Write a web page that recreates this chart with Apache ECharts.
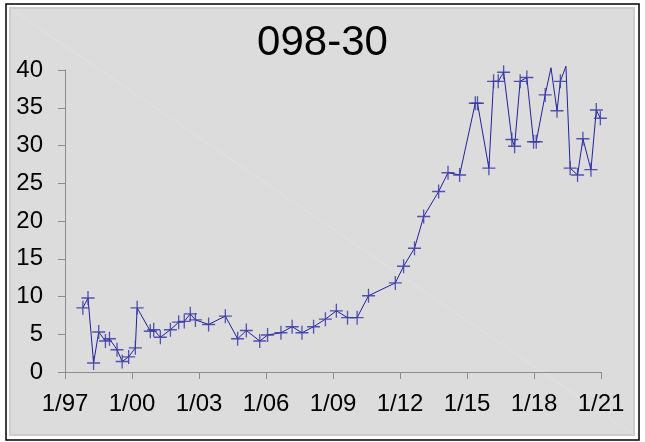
<!DOCTYPE html>
<html>
<head>
<meta charset="utf-8">
<script src="https://cdn.jsdelivr.net/npm/echarts@6/dist/echarts.min.js"></script>
<style>
  html, body { margin: 0; padding: 0; background: #fff; }
  #main { width: 645px; height: 442px; }
</style>
</head>
<body>
<div id="main"></div>
<script>
// dates as decimal years
var dates = [
  1997.80, 1998.03, 1998.28, 1998.51, 1998.81, 1998.99, 1999.33, 1999.56, 1999.85, 2000.15,
  2000.23, 2000.82, 2000.97, 2001.27, 2001.72, 2002.09, 2002.34, 2002.61, 2002.84, 2003.43,
  2004.18, 2004.73, 2005.12, 2005.72, 2006.07, 2006.67, 2007.17, 2007.61, 2008.13, 2008.66,
  2009.15, 2009.65, 2010.08, 2010.59, 2011.79, 2012.16, 2012.65, 2013.06, 2013.73, 2014.15,
  2014.67, 2015.37, 2015.47, 2015.98, 2016.19, 2016.40, 2016.64, 2017.01, 2017.13, 2017.38,
  2017.68, 2017.98, 2018.10, 2018.50, 2018.76, 2019.03, 2019.18, 2019.43, 2019.62, 2019.95,
  2020.19, 2020.55, 2020.79, 2020.97
];
var values = [
  8.5, 9.8, 1.2, 5.3, 4.1, 4.4, 2.95, 1.4, 2.0, 3.2,
  8.5, 5.4, 5.6, 4.6, 5.6, 6.6, 6.7, 7.7, 6.9, 6.3,
  7.4, 4.4, 5.5, 4.1, 4.9, 5.2, 6.0, 5.2, 6.0, 7.0,
  8.1, 7.2, 7.2, 10.1, 11.8, 14.0, 16.4, 20.6, 23.9, 26.4,
  26.1, 35.6, 35.6, 27.0, 38.5, 38.5, 39.7, 30.8, 29.9, 38.5,
  39.0, 30.5, 30.5, 36.7, 40.3, 34.6, 38.5, 40.5, 27.0, 26.1,
  30.9, 26.8, 34.7, 33.6
];
var xTicks = [1997, 2000, 2003, 2006, 2009, 2012, 2015, 2018, 2021];
var yTicks = [0, 5, 10, 15, 20, 25, 30, 35, 40];

var yMax = yTicks[yTicks.length - 1];
var points = dates.map(function (d, i) {
  var p = { value: [d, values[i]] };
  if (values[i] > yMax) p.symbol = 'none'; // peaks above the frame have no marker
  return p;
});

var labelFont = '"Liberation Sans Narrow", "Liberation Sans", Arial, sans-serif';
var plus = 'path://M0,5.4H12V6.6H0Z M5.4,0H6.6V12H5.4Z';

var myChart = echarts.init(document.getElementById('main'));
var option = {
  backgroundColor: '#fff',
  animation: false,
  graphic: [
    { type: 'rect', z: -10, shape: { x: 6, y: 4, width: 633, height: 436 },
      style: { fill: '#fff', stroke: '#000', lineWidth: 1.5 } },
    { type: 'rect', z: -9, shape: { x: 10, y: 8, width: 624, height: 427 },
      style: { fill: '#dcdcdc', stroke: '#cdcdcd', lineWidth: 2 } },
    { type: 'line', z: -8, shape: { x1: 11, y1: 9, x2: 633, y2: 434 },
      style: { stroke: '#e2e2e2', lineWidth: 1 } }
  ],
  title: {
    text: '098-30',
    left: 'center',
    top: 17,
    textStyle: { fontFamily: '"Liberation Sans", Arial, sans-serif', fontSize: 42, fontWeight: 'normal', color: '#000' }
  },
  grid: { left: 65, right: 44, top: 70, bottom: 70 },
  xAxis: {
    type: 'value',
    min: xTicks[0],
    max: xTicks[xTicks.length - 1],
    interval: 3,
    axisLine: { lineStyle: { color: '#8c8c8c', width: 1 } },
    axisTick: { length: 7, lineStyle: { color: '#8c8c8c' } },
    splitLine: { show: false },
    axisLabel: {
      margin: 20,
      fontFamily: labelFont,
      fontSize: 24,
      color: '#000',
      formatter: function (v) { return '1/' + String(v % 100).padStart(2, '0'); }
    }
  },
  yAxis: {
    type: 'value',
    min: yTicks[0],
    max: yMax,
    interval: 5,
    axisLine: { show: true, lineStyle: { color: '#8c8c8c', width: 1 } },
    axisTick: { show: true, length: 7, lineStyle: { color: '#8c8c8c' } },
    splitLine: { show: false },
    axisLabel: {
      margin: 22,
      fontFamily: labelFont,
      fontSize: 24,
      color: '#000'
    }
  },
  series: [
    {
      type: 'line',
      data: points,
      clip: false,
      symbol: plus,
      symbolSize: [13, 14],
      showAllSymbol: true,
      lineStyle: { color: '#22229a', width: 1 },
      itemStyle: { color: '#3838a8', opacity: 0.85 }
    }
  ]
};
myChart.setOption(option);
</script>
</body>
</html>
